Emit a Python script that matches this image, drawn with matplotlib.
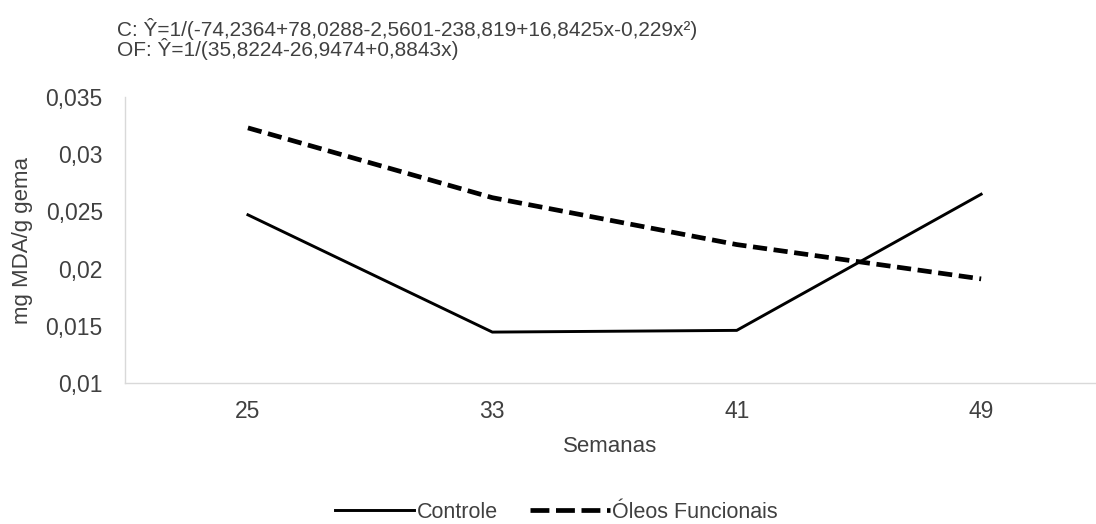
import matplotlib
matplotlib.use("Agg")
import matplotlib.pyplot as plt
from matplotlib.lines import Line2D

weeks = ["25", "33", "41", "49"]
controle = [0.0247, 0.01445, 0.0146, 0.0265]
oleos = [0.0323, 0.0262, 0.0221, 0.0191]
yticks = [0.01, 0.015, 0.02, 0.025, 0.03, 0.035]
ytick_labels = ["0,01", "0,015", "0,02", "0,025", "0,03", "0,035"]

plt.rcParams['font.family'] = ['Liberation Sans', 'DejaVu Sans']
txt = "#404040"
W, H = 1096, 524

fig = plt.figure(figsize=(10.96, 5.24), dpi=100)
ax = fig.add_axes([125 / W, 1 - 383 / H, 1 - 125 / W, (383 - 97) / H])
x = list(range(len(weeks)))
ax.plot(x, controle, color="black", lw=2.1, solid_joinstyle="miter")
ax.plot(x, oleos, color="black", lw=3.4, dashes=(3.0, 1.4))
ax.set_xlim(-0.503, 3.47)
ax.set_ylim(0.01, 0.035)
ax.set_yticks(yticks)
ax.set_yticklabels(ytick_labels)
ax.set_xticks(x)
ax.set_xticklabels(weeks)
for s in ["top", "right"]:
    ax.spines[s].set_visible(False)
for s in ["left", "bottom"]:
    ax.spines[s].set_color("#d9d9d9")
    ax.spines[s].set_linewidth(1.0)
ax.tick_params(axis="both", length=0, labelsize=16.5, colors=txt)
ax.tick_params(axis="y", pad=16)
ax.tick_params(axis="x", pad=12)

fig.text(610 / W, 1 - 447 / H, "Semanas", fontsize=16, color=txt,
         ha="center", va="center")
fig.text(22.5 / W, 1 - 240 / H, "mg MDA/g gema", fontsize=16, color=txt,
         ha="center", va="center", rotation=90)

fig.text(117 / W, 1 - 29 / H, "C: Ŷ=1/(-74,2364+78,0288-2,5601-238,819+16,8425x-0,229x²)",
         fontsize=15, color=txt, va="center", ha="left")
fig.text(117 / W, 1 - 49 / H, "OF: Ŷ=1/(35,8224-26,9474+0,8843x)",
         fontsize=15, color=txt, va="center", ha="left")

handles = [Line2D([], [], color="black", lw=2.1),
           Line2D([], [], color="black", lw=3.4, dashes=(4.0, 1.4))]
fig.legend(handles, ["Controle", "Óleos Funcionais"], loc="center",
           bbox_to_anchor=(556 / W, 1 - 512 / H), ncol=2, frameon=False, fontsize=15.5,
           handlelength=3.7, handletextpad=0.1, columnspacing=1.5, labelcolor=txt,
           borderpad=0, borderaxespad=0)

fig.savefig("out.png", dpi=100)
